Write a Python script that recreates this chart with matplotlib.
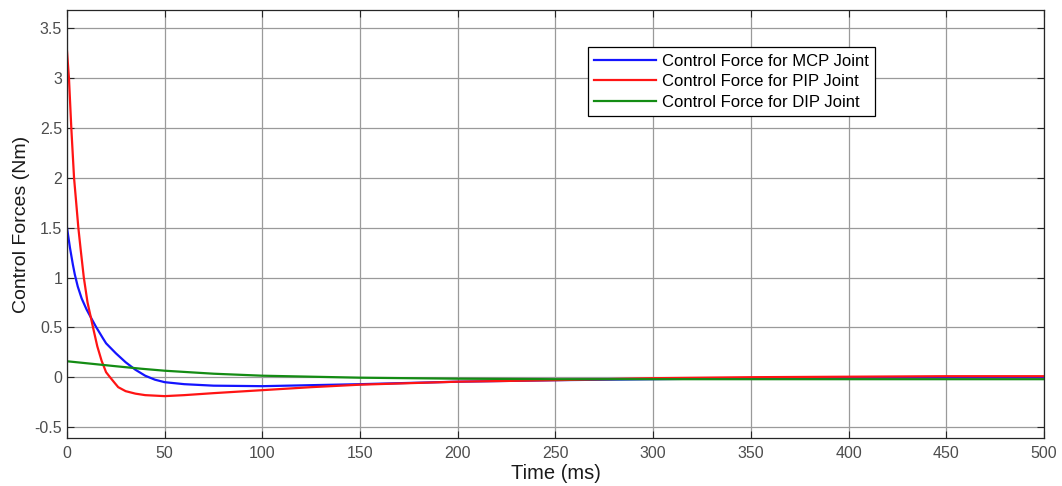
import numpy as np
import matplotlib
matplotlib.use('Agg')
import matplotlib.pyplot as plt

plt.rcParams['font.family'] = ['Liberation Sans', 'DejaVu Sans']

# ── data (time in ms, force in Nm) ────────────────────────────────────────────
t_mcp = [0, 1.5, 3.0, 4.0, 5.5, 7.5, 10, 12.2, 14.7, 18.4, 20, 25, 30, 35, 40,
         45, 50, 60, 75, 100, 150, 200, 250, 300, 350, 400, 450, 500]
f_mcp = [1.5, 1.3, 1.13, 1.03, 0.91, 0.79, 0.68, 0.60, 0.51, 0.39, 0.34, 0.24,
         0.15, 0.075, 0.015, -0.025, -0.05, -0.07, -0.085, -0.09, -0.07,
         -0.045, -0.03, -0.02, -0.01, -0.005, 0.0, 0.0]

t_pip = [0, 1.0, 2.2, 3.6, 4.6, 5.8, 7.0, 8.6, 10.5, 12.2, 13.3, 15.5, 17.7,
         20, 22, 24.5, 26.2, 30, 35, 40, 50, 60, 75, 100, 125, 150, 175, 200,
         250, 300, 350, 400, 450, 500]
f_pip = [3.27, 3.0, 2.5, 2.0, 1.775, 1.5, 1.28, 1.0, 0.75, 0.60, 0.50, 0.31,
         0.165, 0.05, 0.0, -0.06, -0.10, -0.14, -0.165, -0.18, -0.19, -0.18,
         -0.16, -0.13, -0.10, -0.075, -0.06, -0.045, -0.03, -0.01, 0.0, 0.005,
         0.01, 0.01]

t_dip = [0, 25, 38, 50, 75, 100, 150, 200, 250, 300, 400, 500]
f_dip = [0.16, 0.11, 0.085, 0.065, 0.035, 0.015, -0.005, -0.015, -0.02, -0.02,
         -0.02, -0.02]

SERIES = [
    ('Control Force for MCP Joint', '#1414ff', t_mcp, f_mcp),
    ('Control Force for PIP Joint', '#ff1414', t_pip, f_pip),
    ('Control Force for DIP Joint', '#148c14', t_dip, f_dip),
]

fig = plt.figure(figsize=(10.62, 4.86), dpi=100)
ax = fig.add_axes([0.0631, 0.0988, 0.9199, 0.8806])

for label, color, t, f in SERIES:
    ax.plot(t, f, color=color, linewidth=1.6, label=label)

ax.set_xlim(0, 500)
ax.set_ylim(-0.61, 3.685)
ax.set_xticks(np.arange(0, 501, 50))
ax.set_yticks(np.arange(-0.5, 3.51, 0.5))
ax.set_yticklabels(['-0.5', '0', '0.5', '1', '1.5', '2', '2.5', '3', '3.5'])

ax.grid(True, color='#9a9a9a', linewidth=0.9)
ax.tick_params(direction='in', length=5, labelsize=11.5, colors='#262626',
               labelcolor='#4d4d4d', top=True, right=True)
ax.tick_params(axis='x', pad=6)
for sp in ax.spines.values():
    sp.set_color('#262626')
    sp.set_linewidth(0.9)

ax.set_xlabel('Time (ms)', fontsize=14.5, color='#1a1a1a', labelpad=2)
ax.set_ylabel('Control Forces (Nm)', fontsize=14, color='#1a1a1a', labelpad=3)

leg = ax.legend(loc='upper left', bbox_to_anchor=(0.533, 0.9136), fontsize=12,
                fancybox=False, framealpha=1, edgecolor='black',
                handlelength=3.7, borderpad=0.4, labelspacing=0.33,
                handletextpad=0.34, borderaxespad=0)
leg.get_frame().set_linewidth(0.9)

fig.savefig('out.png', dpi=100)
plt.close(fig)
